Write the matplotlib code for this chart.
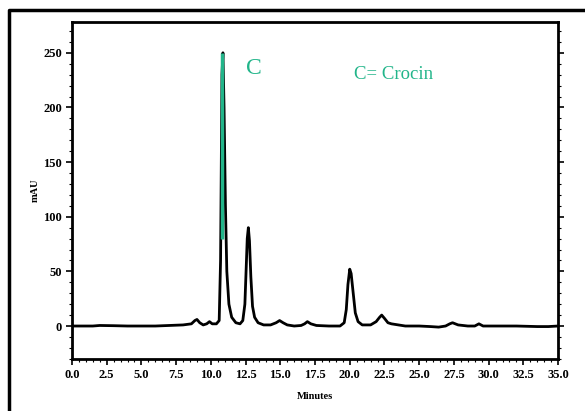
import matplotlib.pyplot as plt
from matplotlib.lines import Line2D
from matplotlib.ticker import MultipleLocator

# chromatogram trace (minutes, mAU)
time_min = [0.0, 1.5, 2.0, 3.0, 4.0, 5.0, 6.0, 7.0, 8.0, 8.6, 8.85, 9.0, 9.2, 9.45,
            9.7, 9.9, 10.1, 10.4, 10.6, 10.7, 10.8, 10.87, 10.95, 11.05, 11.15,
            11.3, 11.5, 11.8, 12.1, 12.3, 12.45, 12.55, 12.62, 12.7, 12.78, 12.88,
            13.0, 13.15, 13.4, 13.8, 14.3, 14.7, 14.95, 15.2, 15.5, 16.0, 16.5,
            16.75, 16.95, 17.2, 17.6, 18.5, 19.3, 19.6, 19.75, 19.87, 20.0, 20.1,
            20.25, 20.4, 20.6, 20.9, 21.5, 21.9, 22.15, 22.3, 22.5, 22.75, 23.0,
            23.5, 24.0, 25.0, 25.8, 26.4, 26.9, 27.2, 27.4, 27.8, 28.5, 29.0,
            29.3, 29.6, 30.5, 32.0, 33.5, 34.3, 35.0]
mau = [0, 0, 0.5, 0.3, 0, 0, 0, 0.5, 1, 2, 5, 6, 3, 1,
       2, 4, 2, 2, 5, 60, 230, 250, 200, 110, 50,
       20, 8, 3, 2, 5, 20, 55, 80, 90, 78, 45,
       18, 8, 3, 1, 1, 3, 5, 3, 1, 0, 0.5,
       2, 4, 2, 0.5, 0, 0, 3, 15, 38, 52, 48,
       30, 12, 4, 1, 1, 4, 8, 10, 7, 3, 2,
       1, 0, 0, -0.5, -1, 0, 2, 3, 1, 0, 0,
       2, 0, 0, 0, -0.5, -0.5, 0]

# highlighted crocin peak
crocin_time = 10.82
crocin_low, crocin_high = 80, 250

x_ticks = [0.0, 2.5, 5.0, 7.5, 10.0, 12.5, 15.0, 17.5, 20.0, 22.5, 25.0, 27.5, 30.0, 32.5, 35.0]
y_ticks = [0, 50, 100, 150, 200, 250]

green = "#22b58a"
tick_font = dict(family="Liberation Serif", weight="bold", size=9)

fig = plt.figure(figsize=(5.85, 4.11), dpi=100)
ax = fig.add_axes([0.123, 0.127, 0.831, 0.819])

ax.plot(time_min, mau, color="black", lw=2.0)
ax.vlines(crocin_time, crocin_low, crocin_high, color=green, lw=2.5, zorder=3)

ax.set_xlim(0, 35)
ax.set_ylim(-30, 278)
ax.set_xticks(x_ticks)
ax.set_xticklabels([f"{v:.1f}" for v in x_ticks], fontdict=tick_font)
ax.set_yticks(y_ticks)
ax.set_yticklabels([str(v) for v in y_ticks], fontdict=tick_font)
ax.xaxis.set_minor_locator(MultipleLocator(0.5))
ax.yaxis.set_minor_locator(MultipleLocator(10))
ax.tick_params(which="major", direction="out", length=4, width=1.2, pad=3)
ax.tick_params(which="minor", direction="out", length=2, width=0.8)
ax.tick_params(axis="y", which="both", right=True)
for s in ax.spines.values():
    s.set_linewidth(2)

ax.set_ylabel("mAU", fontdict=dict(family="Liberation Serif", weight="bold", size=7.5), labelpad=3)
ax.set_xlabel("Minutes", fontdict=dict(family="Liberation Serif", weight="bold", size=7.5), labelpad=8)

ax.text(13.1, 236, "C", color=green, family="Liberation Serif", size=17, va="center", ha="center")
ax.text(20.3, 230, "C= Crocin", color=green, family="Liberation Serif", size=13.5, va="center", ha="left")

# outer frame (left and top edges only show in the picture)
fig.lines.append(Line2D([9 / 585, 9 / 585, 1.0], [0.0, 1 - 10 / 411, 1 - 10 / 411],
                        transform=fig.transFigure, color="black", lw=2.5))

fig.savefig("out.png", dpi=100)
